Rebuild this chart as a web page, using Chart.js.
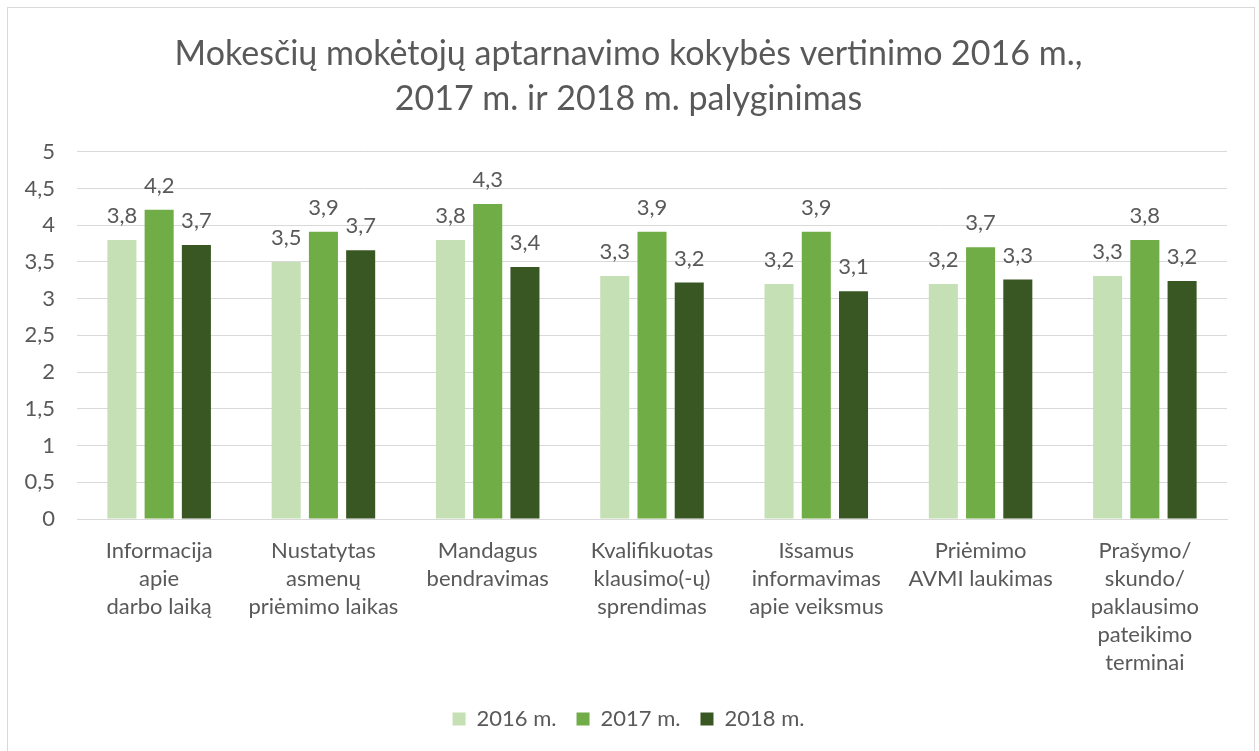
<!DOCTYPE html>
<html>
<head>
<meta charset="utf-8">
<script src="https://cdn.jsdelivr.net/npm/chart.js@4"></script>
<style>
  html, body { margin: 0; padding: 0; background: #fff; overflow: hidden; }
  #box { position: absolute; left: 7px; top: 7px; width: 1246px; height: 760px; border: 1px solid #d9d9d9; }
  #wrap { position: absolute; left: 0; top: 0; width: 1246px; height: 743px; }
</style>
</head>
<body>
<div id="box"><div id="wrap"><canvas id="chart"></canvas></div></div>
<script>
// Kategorijos
const categories = [
    ['Informacija', 'apie', 'darbo laiką'],
    ['Nustatytas', 'asmenų', 'priėmimo laikas'],
    ['Mandagus', 'bendravimas'],
    ['Kvalifikuotas', 'klausimo(-ų)', 'sprendimas'],
    ['Išsamus', 'informavimas', 'apie veiksmus'],
    ['Priėmimo', 'AVMI laukimas'],
    ['Prašymo/', 'skundo/', 'paklausimo', 'pateikimo', 'terminai']
];

// Vertinimai pagal metus
const values2016 = [3.80, 3.50, 3.80, 3.31, 3.20, 3.20, 3.31];
const values2017 = [4.21, 3.91, 4.29, 3.91, 3.91, 3.70, 3.80];
const values2018 = [3.73, 3.66, 3.43, 3.22, 3.10, 3.26, 3.24];

const seriesNames = ['2016 m.', '2017 m.', '2018 m.'];
const yTicks = [0, 0.5, 1, 1.5, 2, 2.5, 3, 3.5, 4, 4.5, 5];

const fontFamily = 'Lato, "Open Sans", sans-serif';
const grey = '#595959';

function fmt(v) {
    return String(Math.round(v * 10) / 10).replace('.', ',');
}

// Reikšmių etiketės virš stulpelių
const valueLabels = {
    id: 'valueLabels',
    afterDatasetsDraw(chart) {
        const ctx = chart.ctx;
        ctx.save();
        ctx.font = '22px ' + fontFamily;
        ctx.fillStyle = grey;
        ctx.textAlign = 'center';
        ctx.textBaseline = 'middle';
        chart.data.datasets.forEach((ds, i) => {
            chart.getDatasetMeta(i).data.forEach((bar, j) => {
                ctx.fillText(fmt(ds.data[j]), bar.x, bar.y - 24);
            });
        });
        ctx.restore();
    }
};

const ctx = document.getElementById('chart').getContext('2d');
const chart = new Chart(ctx, {
    type: 'bar',
    data: {
        labels: categories,
        datasets: [{
            label: seriesNames[0],
            data: values2016,
            backgroundColor: '#c5e0b4'
        }, {
            label: seriesNames[1],
            data: values2017,
            backgroundColor: '#70ad47'
        }, {
            label: seriesNames[2],
            data: values2018,
            backgroundColor: '#385723'
        }]
    },
    options: {
        responsive: true,
        maintainAspectRatio: false,
        animation: false,
        categoryPercentage: 0.68,
        barPercentage: 0.78,
        layout: { padding: { left: 0, right: 5, top: 0, bottom: 11 } },
        plugins: {
            title: {
                display: true,
                text: ['Mokesčių mokėtojų aptarnavimo kokybės vertinimo 2016 m.,', '2017 m. ir 2018 m. palyginimas'],
                color: grey,
                font: { family: fontFamily, size: 34, weight: 'normal', lineHeight: 1.32 },
                padding: { top: 24, bottom: 30 }
            },
            legend: {
                position: 'bottom',
                labels: {
                    color: grey,
                    font: { family: fontFamily, size: 22 },
                    boxWidth: 13,
                    boxHeight: 13,
                    padding: 20
                }
            },
            tooltip: { enabled: false }
        },
        scales: {
            x: {
                afterFit: (s) => { s.height = 169; },
                grid: { display: false },
                border: { color: '#d9d9d9' },
                ticks: {
                    color: grey,
                    font: { family: fontFamily, size: 22, lineHeight: 1.27 },
                    maxRotation: 0,
                    autoSkip: false,
                    padding: 10
                }
            },
            y: {
                min: 0,
                max: 5,
                afterFit: (s) => { s.width = 69; },
                afterBuildTicks: (s) => { s.ticks = yTicks.map(v => ({ value: v })); },
                grid: { color: '#d9d9d9', drawTicks: false },
                border: { display: false },
                ticks: {
                    color: grey,
                    font: { family: fontFamily, size: 22 },
                    padding: 22,
                    callback: (v) => String(v).replace('.', ',')
                }
            },
            // tuščia ašis dešinėje, kad pavadinimas ir legenda būtų centre
            spacer: {
                type: 'linear',
                position: 'right',
                afterFit: (s) => { s.width = 22; },
                grid: { display: false },
                border: { display: false },
                ticks: { display: false }
            }
        }
    },
    plugins: [valueLabels]
});
</script>
</body>
</html>
